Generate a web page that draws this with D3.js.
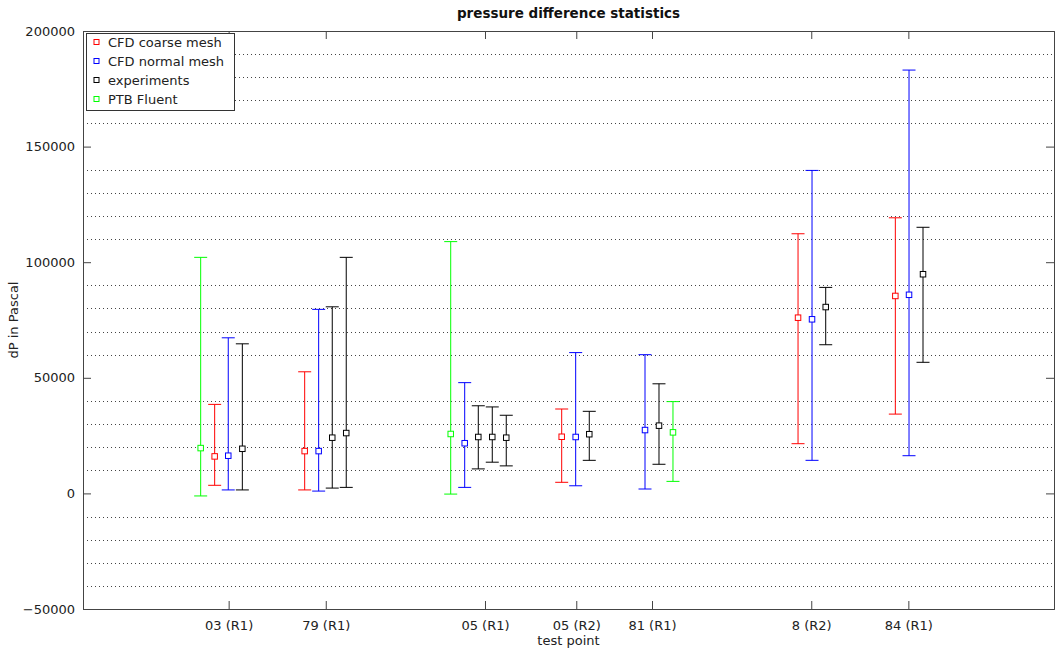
<!DOCTYPE html>
<html>
<head>
<meta charset="utf-8">
<script src="https://cdn.jsdelivr.net/npm/d3@7"></script>
<style>
  body { margin: 0; background: #fff; }
  text { font-family: "DejaVu Sans", sans-serif; }
</style>
</head>
<body>
<div id="chart"></div>
<script>
var tickPos    = [15, 25, 41.4, 50.8, 58.6, 75, 85];
var tickLabels = ["03 (R1)", "79 (R1)", "05 (R1)", "05 (R2)", "81 (R1)", "8 (R2)", "84 (R1)"];

var coarseX    = [13.56, 22.83, 49.30, 73.64, 83.66];
var coarseMean = [16000, 18300, 24500, 76000, 85400];
var coarseLow  = [3500, 1500, 4800, 21500, 34300];
var coarseHigh = [38500, 52600, 36500, 112300, 119200];

var normalX    = [14.96, 24.27, 39.31, 50.74, 57.88, 75.08, 85.07];
var normalMean = [16300, 18300, 21700, 24400, 27400, 75300, 85900];
var normalLow  = [1500, 1000, 2600, 3300, 1900, 14300, 16300];
var normalHigh = [67300, 79600, 47900, 60900, 60000, 139700, 183100];

var expX    = [16.41, 25.67, 27.11, 40.71, 42.15, 43.59, 52.14, 59.32, 76.49, 86.51];
var expMean = [19300, 24100, 26100, 24400, 24400, 24100, 25600, 29300, 80600, 94800];
var expLow  = [1500, 2300, 2600, 10600, 13500, 11900, 14300, 12600, 64300, 56700];
var expHigh = [64700, 80700, 102100, 37900, 37400, 33800, 35500, 47400, 89100, 115100];

var ptbX    = [12.12, 37.87, 60.76];
var ptbMean = [19600, 25700, 26400];
var ptbLow  = [-1100, -300, 5200];
var ptbHigh = [102100, 108900, 39700];

var seriesNames  = ["CFD coarse mesh", "CFD normal mesh", "experiments", "PTB Fluent"];
var seriesColors = ["#ff0000", "#0000ff", "#000000", "#00ff00"];

function zipSeries(xs, mean, low, high) {
  return xs.map(function(x, i) {
    return { x: x, y: mean[i], lo: low[i], hi: high[i] };
  });
}

var series = [
  zipSeries(coarseX, coarseMean, coarseLow, coarseHigh),
  zipSeries(normalX, normalMean, normalLow, normalHigh),
  zipSeries(expX, expMean, expLow, expHigh),
  zipSeries(ptbX, ptbMean, ptbLow, ptbHigh)
];

var width = 1058, height = 650;
var m = { top: 31, right: 4, bottom: 41, left: 83 };
var w = width - m.left - m.right,
    h = height - m.top - m.bottom;

var svg = d3.select("#chart").append("svg")
  .attr("width", width)
  .attr("height", height);

var g = svg.append("g")
  .attr("transform", "translate(" + m.left + "," + m.top + ")");

var x = d3.scaleLinear().domain([0, 100]).range([0, w]);
var y = d3.scaleLinear().domain([-50000, 200000]).range([h, 0]);

var majorY = d3.range(-50000, 200001, 50000);
var minorY = d3.range(-40000, 200000, 10000).filter(function(v) { return v % 50000 !== 0; });

// dotted minor grid
g.append("g").selectAll("line")
  .data(minorY)
  .enter().append("line")
  .attr("x1", 0).attr("x2", w)
  .attr("y1", function(d) { return Math.round(y(d)) + 0.5; })
  .attr("y2", function(d) { return Math.round(y(d)) + 0.5; })
  .attr("stroke", "#444")
  .attr("stroke-width", 1)
  .attr("stroke-dasharray", "1,3");

// axes with inward ticks
var yAxis = g.append("g")
  .call(d3.axisLeft(y).tickValues(majorY).tickSize(-8).tickPadding(12).tickFormat(d3.format("d")));
var yAxisR = g.append("g")
  .attr("transform", "translate(" + w + ",0)")
  .call(d3.axisRight(y).tickValues(majorY).tickSize(-8).tickFormat(""));
var xAxis = g.append("g")
  .attr("transform", "translate(0," + h + ")")
  .call(d3.axisBottom(x).tickValues(tickPos).tickSize(-8).tickPadding(12)
    .tickFormat(function(d, i) { return tickLabels[i]; }));
var xAxisT = g.append("g")
  .call(d3.axisTop(x).tickValues(tickPos).tickSize(-8).tickFormat(""));

[yAxis, yAxisR, xAxis, xAxisT].forEach(function(a) {
  a.select(".domain").attr("stroke", "#444");
  a.selectAll(".tick line").attr("stroke", "#444");
  a.selectAll("text")
    .attr("font-family", "DejaVu Sans, sans-serif")
    .attr("font-size", 13)
    .attr("fill", "#222");
});
yAxis.selectAll("text").attr("dx", "4");

// error bars
var cap = 6.5, box = 5.5;
series.forEach(function(data, si) {
  var col = seriesColors[si];
  var bars = g.append("g").attr("class", "series").selectAll("g")
    .data(data)
    .enter().append("g");

  bars.append("line")
    .attr("x1", function(d) { return x(d.x); })
    .attr("x2", function(d) { return x(d.x); })
    .attr("y1", function(d) { return y(d.lo); })
    .attr("y2", function(d) { return y(d.hi); })
    .attr("stroke", col);

  bars.append("line")
    .attr("x1", function(d) { return x(d.x) - cap; })
    .attr("x2", function(d) { return x(d.x) + cap; })
    .attr("y1", function(d) { return y(d.hi); })
    .attr("y2", function(d) { return y(d.hi); })
    .attr("stroke", col);

  bars.append("line")
    .attr("x1", function(d) { return x(d.x) - cap; })
    .attr("x2", function(d) { return x(d.x) + cap; })
    .attr("y1", function(d) { return y(d.lo); })
    .attr("y2", function(d) { return y(d.lo); })
    .attr("stroke", col);

  bars.append("rect")
    .attr("x", function(d) { return x(d.x) - box / 2; })
    .attr("y", function(d) { return y(d.y) - box / 2; })
    .attr("width", box)
    .attr("height", box)
    .attr("fill", "#fff")
    .attr("stroke", col);
});

// legend
var legend = g.append("g").attr("transform", "translate(3,2)");
legend.append("rect")
  .attr("x", 0.5).attr("y", 0.5)
  .attr("width", 148).attr("height", 77)
  .attr("fill", "#fff")
  .attr("stroke", "#333");

var items = legend.selectAll("g.item")
  .data(seriesNames)
  .enter().append("g")
  .attr("class", "item")
  .attr("transform", function(d, i) { return "translate(0," + (9 + i * 19) + ")"; });

items.append("rect")
  .attr("x", 8).attr("y", -2.5)
  .attr("width", 5).attr("height", 5)
  .attr("fill", "none")
  .attr("stroke", function(d, i) { return seriesColors[i]; });

items.append("text")
  .attr("x", 22).attr("y", 5)
  .attr("font-size", 13)
  .attr("fill", "#222")
  .text(function(d) { return d; });

// titles
svg.append("text")
  .attr("x", m.left + w / 2).attr("y", 18)
  .attr("text-anchor", "middle")
  .attr("font-size", 13.5)
  .attr("font-weight", "bold")
  .attr("fill", "#111")
  .text("pressure difference statistics");

svg.append("text")
  .attr("x", m.left + w / 2).attr("y", 645)
  .attr("text-anchor", "middle")
  .attr("font-size", 13)
  .attr("fill", "#222")
  .text("test point");

svg.append("text")
  .attr("transform", "translate(18," + (m.top + h / 2) + ") rotate(-90)")
  .attr("text-anchor", "middle")
  .attr("font-size", 13)
  .attr("fill", "#222")
  .text("dP in Pascal");
</script>
</body>
</html>
